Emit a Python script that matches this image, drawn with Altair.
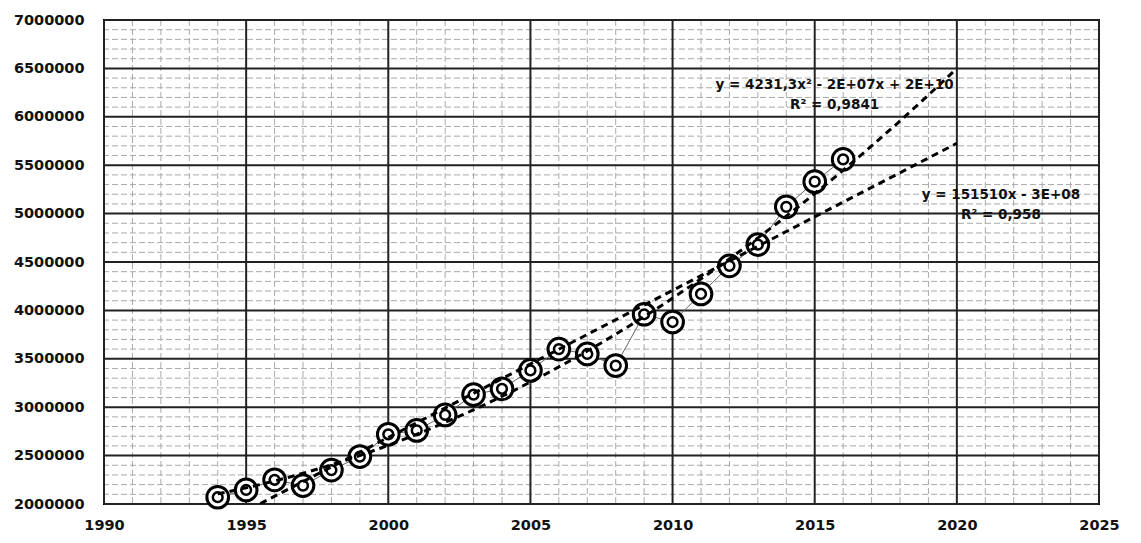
import altair as alt
import pandas as pd

years = list(range(1994, 2017))
values = [2070000, 2145000, 2250000, 2190000, 2350000, 2490000, 2720000, 2760000,
          2920000, 3130000, 3190000, 3380000, 3600000, 3550000, 3430000, 3960000,
          3880000, 4170000, 4460000, 4680000, 5070000, 5330000, 5560000]

x_major = [1990, 1995, 2000, 2005, 2010, 2015, 2020, 2025]
y_major = [2000000, 2500000, 3000000, 3500000, 4000000, 4500000, 5000000,
           5500000, 6000000, 6500000, 7000000]
x_minor = [y for y in range(1990, 2026) if y % 5 != 0]
y_minor = [v for v in range(2000000, 7000001, 100000) if v % 500000 != 0]

ann_text = ["y = 4231,3x² - 2E+07x + 2E+10", "R² = 0,9841",
            "y = 151510x - 3E+08", "R² = 0,958"]
ann_x = [2015.7, 2015.7, 2021.55, 2021.55]
ann_y = [6330000, 6120000, 5190000, 4985000]

df = pd.DataFrame({"year": years, "value": values})
FONT = "DejaVu Sans"

xs = alt.Scale(domain=[1990, 2025], nice=False, zero=False)
ys = alt.Scale(domain=[2000000, 7000000], nice=False, zero=False)

xaxis = alt.Axis(values=x_major, format="d", grid=False, ticks=False, domain=False,
                 labelFont=FONT, labelFontSize=14.5, labelFontWeight="bold",
                 labelColor="#111", labelPadding=14, labelFlush=False, title=None)
yaxis = alt.Axis(values=y_major, format="d", grid=False, ticks=False, domain=False,
                 labelFont=FONT, labelFontSize=14.5, labelFontWeight="bold",
                 labelColor="#111", labelPadding=20, labelFlush=False, title=None)

xminor = alt.Chart(pd.DataFrame({"g": x_minor})).mark_rule(
    color="#aaa", strokeWidth=1, strokeDash=[6, 3]).encode(
    x=alt.X("g:Q", scale=xs, axis=xaxis))
yminor = alt.Chart(pd.DataFrame({"g": y_minor})).mark_rule(
    color="#aaa", strokeWidth=1, strokeDash=[6, 3]).encode(
    y=alt.Y("g:Q", scale=ys, axis=yaxis))
xmaj = alt.Chart(pd.DataFrame({"g": x_major})).mark_rule(
    color="#222", strokeWidth=2).encode(x=alt.X("g:Q", scale=xs))
ymaj = alt.Chart(pd.DataFrame({"g": y_major})).mark_rule(
    color="#222", strokeWidth=2).encode(y=alt.Y("g:Q", scale=ys))

base = alt.Chart(df).encode(
    x=alt.X("year:Q", scale=xs),
    y=alt.Y("value:Q", scale=ys))

line = base.mark_line(color="#666", strokeWidth=1)
outer = base.mark_point(shape="circle", size=470, filled=False, fill="white",
                        fillOpacity=1, stroke="black", strokeWidth=3, opacity=1)
inner = base.mark_point(shape="circle", size=95, filled=False,
                        stroke="black", strokeWidth=2.5, opacity=1)

trend_lin = base.transform_regression(
    "year", "value", method="linear", extent=[1994, 2020]
).mark_line(color="black", strokeWidth=3, strokeDash=[7, 5], clip=True)
trend_poly = base.transform_regression(
    "year", "value", method="poly", order=2, extent=[1994, 2020]
).mark_line(color="black", strokeWidth=3, strokeDash=[7, 5], clip=True)

ann = alt.Chart(pd.DataFrame({"t": ann_text, "x": ann_x, "y": ann_y})).mark_text(
    font=FONT, fontSize=13.5, fontWeight="bold", color="#111", align="center",
    baseline="middle").encode(
    x=alt.X("x:Q", scale=xs), y=alt.Y("y:Q", scale=ys), text="t:N")

chart = alt.layer(xminor, yminor, xmaj, ymaj, line, outer, inner,
                  trend_lin, trend_poly, ann).properties(
    width=995, height=484,
    autosize=alt.AutoSizeParams(type="none"),
    padding={"left": 96, "top": 12, "right": 30, "bottom": 31},
    background="white"
).configure_view(stroke="black", strokeWidth=2)

chart.save("out.html", embed_options={"renderer": "svg", "actions": False})
